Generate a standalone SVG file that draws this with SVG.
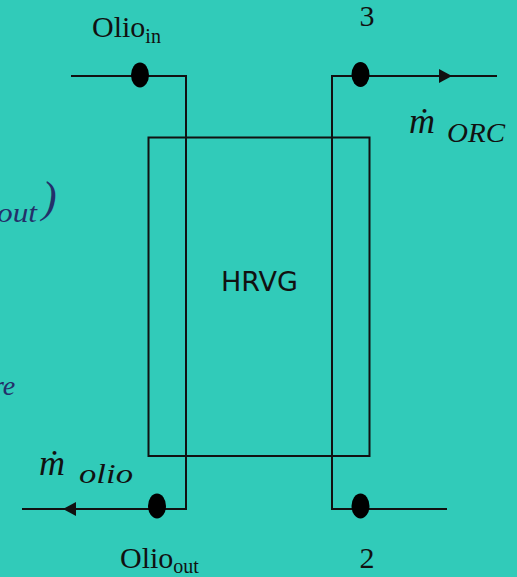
<svg xmlns="http://www.w3.org/2000/svg" width="517" height="577" viewBox="0 0 517 577">
  <defs>
    <style>
      .wire { fill: none; stroke: #111; stroke-width: 2; }
      .dot { fill: #000; }
      .lbl { font-family: "Liberation Serif", "Times New Roman", serif; fill: #111; }
      .math { font-family: "Liberation Serif", "Times New Roman", serif; font-style: italic; fill: #111; }
      .side { font-family: "Liberation Serif", "Times New Roman", serif; font-style: italic; fill: #23306a; }
      .sans { font-family: "DejaVu Sans", "Liberation Sans", sans-serif; fill: #111; }
    </style>
  </defs>
  <rect x="0" y="0" width="517" height="577" fill="#31cbb9"/>

  <!-- cropped side texts -->
  <text class="side" x="-3" y="222" font-size="28" textLength="40" lengthAdjust="spacingAndGlyphs">out</text>
  <text class="side" x="42" y="212" font-size="44" font-style="normal">)</text>
  <text class="side" x="-7" y="395" font-size="28">re</text>

  <g id="hrvg">
    <rect x="148.5" y="137.5" width="221" height="318.5" class="wire"/>
    <text class="sans" x="259.5" y="291" font-size="27" text-anchor="middle">HRVG</text>
  </g>

  <g id="connectors">
    <polyline class="wire" points="71,76 186,76 186,509 22,509"/>
    <polygon points="63,509 76,502 76,516" fill="#111"/>
    <polyline class="wire" points="447,509 332,509 332,76 497,76"/>
    <polygon points="452,76 439,69 439,83" fill="#111"/>
  </g>

  <g id="olio-in">
    <ellipse class="dot" cx="140" cy="75" rx="9" ry="12.5"/>
    <text class="lbl" x="92" y="37" font-size="30">Olio<tspan font-size="20" dy="6">in</tspan></text>
  </g>

  <g id="node-3">
    <ellipse class="dot" cx="360.5" cy="74.5" rx="9" ry="12.5"/>
    <text class="lbl" x="367" y="26" font-size="30" text-anchor="middle">3</text>
  </g>

  <g id="m-orc">
    <text class="math" x="409" y="133" font-size="36">ṁ</text>
    <text class="math" x="447" y="142" font-size="27" textLength="58" lengthAdjust="spacingAndGlyphs">ORC</text>
  </g>

  <g id="olio-out">
    <ellipse class="dot" cx="157" cy="506" rx="9" ry="12.5"/>
    <text class="lbl" x="120" y="568" font-size="30">Olio<tspan font-size="20" dy="5">out</tspan></text>
  </g>

  <g id="m-olio">
    <text class="math" x="39" y="475" font-size="36">ṁ</text>
    <text class="math" x="79" y="483" font-size="27" textLength="54" lengthAdjust="spacingAndGlyphs">olio</text>
  </g>

  <g id="node-2">
    <ellipse class="dot" cx="360.5" cy="506" rx="9" ry="12.5"/>
    <text class="lbl" x="367" y="568" font-size="30" text-anchor="middle">2</text>
  </g>
</svg>
